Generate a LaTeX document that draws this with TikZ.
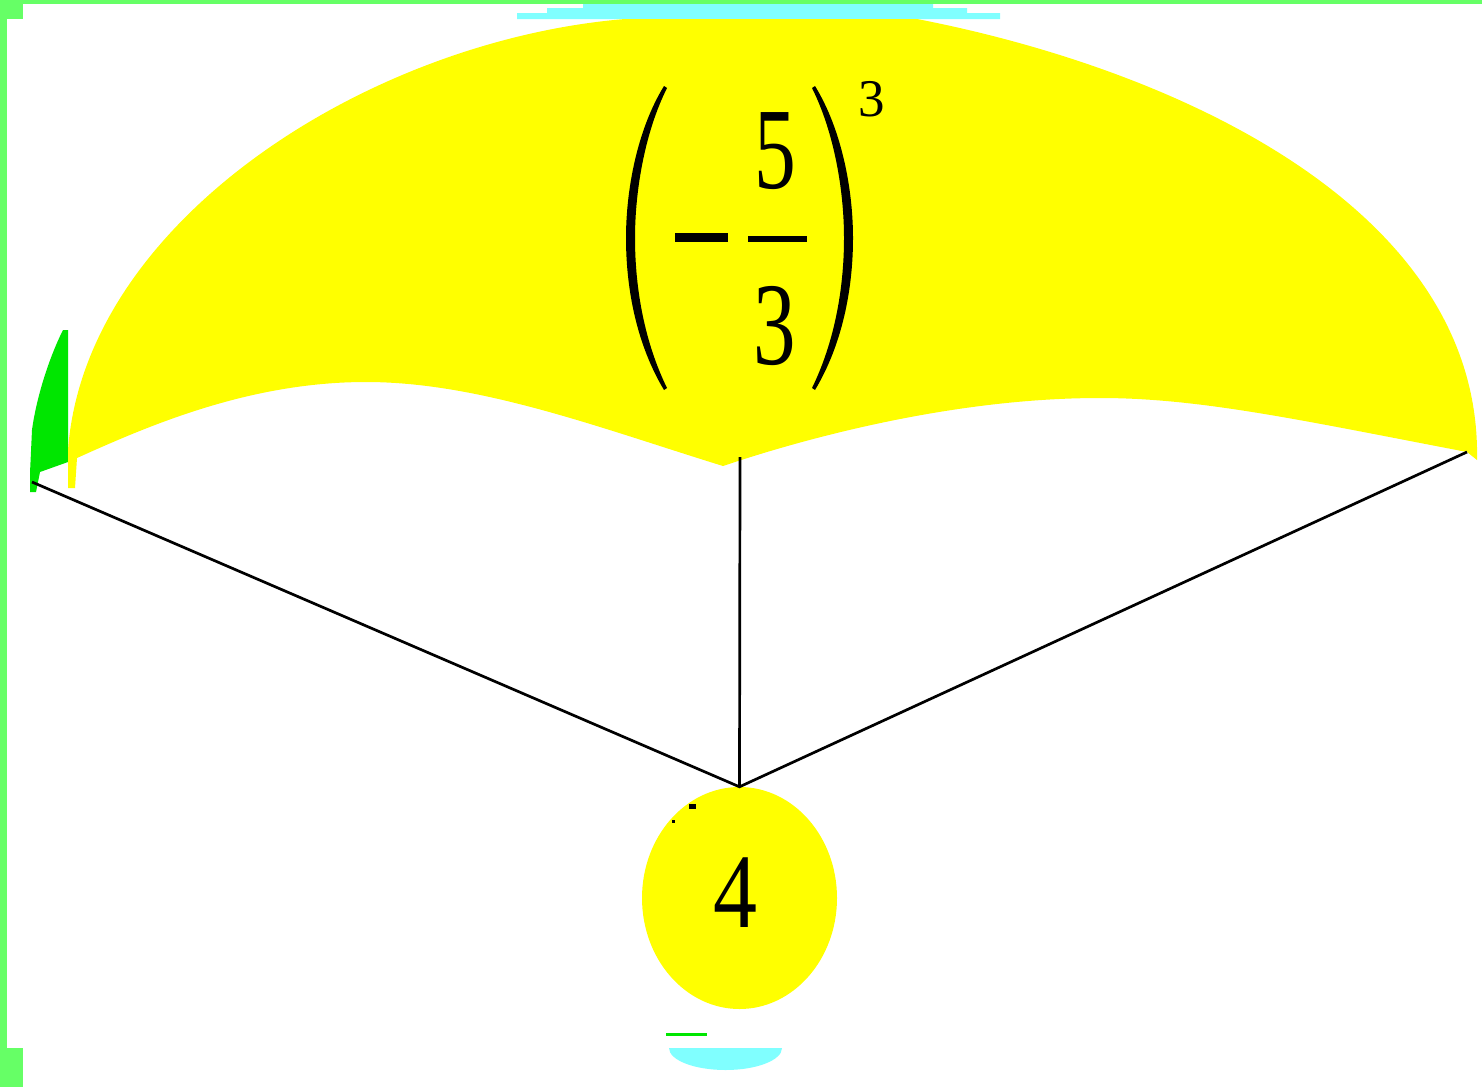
\documentclass[tikz,border=0pt]{standalone}
\usepackage{fontspec}
\usepackage{graphicx}
\setmainfont{Liberation Serif}
\usetikzlibrary{shapes.geometric}
\definecolor{fanyellow}{RGB}{255,255,0}
\definecolor{borderg}{RGB}{102,255,102}
\definecolor{sliverg}{RGB}{0,230,0}
\definecolor{capcyan}{RGB}{128,255,255}
\tikzset{
  spoke/.style={draw=black, line width=2.7pt},
  digit/.style={anchor=base, inner sep=0pt, text=black},
  glyphfill/.style={fill=black, draw=none}
}
\begin{document}
\begin{tikzpicture}[x=1pt,y=-1pt]
\useasboundingbox (0,0) rectangle (1482,1087);
\fill[white] (0,0) rectangle (1482,1087);
% border pieces
\fill[borderg] (0,0) rectangle (1482,4);
\fill[borderg] (0,0) rectangle (7,1087);
\fill[borderg] (0,0) rectangle (23,19);
\fill[borderg] (0,1048) rectangle (23,1087);
% cyan caps
\fill[capcyan] (583,4) -- (933,4) -- (933,8) -- (967,8) -- (967,13) -- (1000,13) -- (1000,19) -- (517,19) -- (517,13) -- (547,13) -- (547,8) -- (583,8) -- cycle;
\fill[capcyan] (669,1048) -- (782,1048) arc[start angle=0, end angle=-180, x radius=56.5, y radius=-22] -- cycle;
\fill[sliverg] (666,1033) rectangle (707,1036);
% green sliver at left
\fill[sliverg] (68,330) -- (63,330) .. controls (48,360) and (36,400) .. (32,430) -- (30,473) -- (30,492) -- (36,492) -- (40,472) -- (68,462) -- cycle;
% yellow fan
\fill[fanyellow] (68,488) -- (68,450)
  .. controls (85,220) and (370,40) .. (625,19)
  -- (917,19)
  .. controls (1180,70) and (1482,210) .. (1477,460)
  -- (1467,452)
  .. controls (1300,420) and (1200,398) .. (1100,398)
  .. controls (950,398) and (800,440) .. (723,466)
  .. controls (600,428) and (480,382) .. (366,382)
  .. controls (250,382) and (150,425) .. (77,458)
  -- (75,488) -- cycle;
% the ball
\node[ellipse, fill=fanyellow, draw=none, inner sep=0pt, minimum width=195pt, minimum height=222pt] (ball) at (739.5,898) {};
\node[digit, font=\fontsize{106}{110}\selectfont] (four) at (735.5,927) {\scalebox{0.83}[1]{4}};
% spokes
\coordinate (lend) at (32,482);
\coordinate (rend) at (1467,452);
\coordinate (mend) at (740,457);
\draw[spoke] (lend) -- (ball.north) -- (rend);
\draw[spoke] (mend) -- (ball.north);
% specks
\fill[black] (689,804) rectangle (696,809);
\fill[black] (672,820) rectangle (675,823);
% expression (-5/3)^3
\fill[glyphfill] (664,86) .. controls (637,130) and (626,190) .. (626,238) .. controls (626,290) and (637,345) .. (664,390) -- (667,388) .. controls (645,343) and (635,290) .. (635,238) .. controls (635,190) and (645,132) .. (667,88) -- cycle;
\fill[glyphfill] (815,86) .. controls (842,130) and (853,190) .. (853,238) .. controls (853,290) and (842,345) .. (815,390) -- (812,388) .. controls (834,343) and (844,290) .. (844,238) .. controls (844,190) and (834,132) .. (812,88) -- cycle;
\fill[glyphfill] (675,233) rectangle (728,242);
\fill[glyphfill] (748,236) rectangle (807,242);
\node[digit, font=\fontsize{116}{120}\selectfont] (num) at (775.5,188) {\scalebox{0.72}[1]{5}};
\node[digit, font=\fontsize{118}{122}\selectfont] (den) at (774.5,364) {\scalebox{0.72}[1]{3}};
\node[digit, font=\fontsize{53}{56}\selectfont] (expo) at (871.5,116) {3};
\end{tikzpicture}
\end{document}
